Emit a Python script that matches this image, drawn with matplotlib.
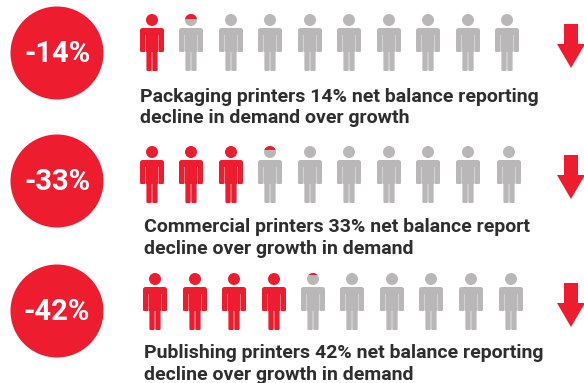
import matplotlib
matplotlib.use("Agg")
import matplotlib.pyplot as plt
from matplotlib.patches import Circle, FancyBboxPatch, Polygon, Rectangle

RED = "#ed1c2e"
GREY = "#b9b7b7"

percent_labels = ["-14%", "-33%", "-42%"]
net_balance = [14, 33, 42]
captions = [
    "Packaging printers 14% net balance reporting\ndecline in demand over growth",
    "Commercial printers 33% net balance report\ndecline over growth in demand",
    "Publishing printers 42% net balance reporting\ndecline over growth in demand",
]

# layout of each row, in pixels
circle_centres = [(57, 53), (57, 181), (57, 311)]
people_x = [
    [152, 191, 231, 270, 310, 349, 389, 428, 468, 507],
    [152, 191, 231, 270, 310, 349, 389, 428, 468, 509],
    [155, 195, 234, 274, 313, 352, 392, 431, 471, 511],
]
head_y = [20, 152, 279]
caption_xy = [(140, 107.5), (144, 238), (144, 364)]
arrow_x = [571, 571, 571]
arrow_top = [24, 155, 283]


def rounded(ax, x0, y0, x1, y1, color, r=1.5):
    ax.add_patch(FancyBboxPatch((x0 + r, y0 + r), x1 - x0 - 2 * r, y1 - y0 - 2 * r,
                                boxstyle=f"round,pad={r},rounding_size={r}",
                                fc=color, ec="none"))


def draw_person(ax, cx, hy, body_color, head_color, head_fill=0.0):
    head = Circle((cx, hy), 6, fc=head_color, ec="none")
    ax.add_patch(head)
    if head_fill > 0:
        # top slice of the head in red
        top = Circle((cx, hy), 6, fc=RED, ec="none")
        ax.add_patch(top)
        clip = Rectangle((cx - 7, hy - 6), 14, 12 * head_fill, transform=ax.transData)
        top.set_clip_path(clip)
    sy = hy + 8
    rounded(ax, cx - 12, sy, cx + 12, sy + 7, body_color, r=2.5)
    rounded(ax, cx - 12, sy + 2, cx - 6.4, sy + 24, body_color, r=1.2)
    rounded(ax, cx + 6.4, sy + 2, cx + 12, sy + 24, body_color, r=1.2)
    ax.add_patch(Rectangle((cx - 5.6, sy), 11.2, 24, fc=body_color, ec="none"))
    rounded(ax, cx - 5.6, sy + 20, cx - 0.3, sy + 43, body_color, r=1.2)
    rounded(ax, cx + 0.3, sy + 20, cx + 5.6, sy + 43, body_color, r=1.2)


def draw_arrow(ax, cx, top):
    ax.add_patch(Polygon([(cx - 7, top), (cx + 7, top), (cx + 7, top + 20),
                          (cx + 14, top + 20), (cx, top + 44), (cx - 14, top + 20),
                          (cx - 7, top + 20)], fc=RED, ec="none"))


fig = plt.figure(figsize=(5.84, 3.83), dpi=100)
ax = fig.add_axes([0, 0, 1, 1])
ax.set_xlim(0, 584)
ax.set_ylim(383, 0)
ax.axis("off")

for i, value in enumerate(net_balance):
    cx, cy = circle_centres[i]
    ax.add_patch(Circle((cx, cy), 46.5, fc=RED, ec="none"))
    ax.text(cx, cy + 1, percent_labels[i], color="white", fontsize=21, fontweight="bold",
            family="Roboto", ha="center", va="center")

    full = value // 10
    part = (value % 10) / 10
    for j, px in enumerate(people_x[i]):
        if j < full:
            draw_person(ax, px, head_y[i], RED, RED)
        elif j == full:
            draw_person(ax, px, head_y[i], GREY, GREY, head_fill=part)
        else:
            draw_person(ax, px, head_y[i], GREY, GREY)

    ax.text(caption_xy[i][0], caption_xy[i][1], captions[i], color="#2e2e2e", fontsize=14,
            fontweight="bold", family="Roboto", ha="left", va="center", linespacing=1.25)
    draw_arrow(ax, arrow_x[i], arrow_top[i])

fig.savefig("out.png", dpi=100)
